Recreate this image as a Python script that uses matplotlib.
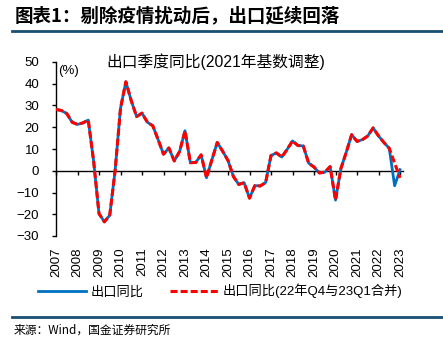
import numpy as np
import matplotlib
matplotlib.use("Agg")
import matplotlib.pyplot as plt
from matplotlib.lines import Line2D

plt.rcParams['font.family'] = ['Liberation Sans', 'Noto Sans CJK SC', 'DejaVu Sans']

years = [str(y) for y in range(2007, 2024)]
export_yoy = [28.2, 27.7, 26.3, 22.3,
              21.3, 22.0, 23.3, 4.4,
              -19.7, -23.5, -20.4, 0.1,
              28.7, 40.9, 32.2, 24.9,
              26.5, 22.3, 20.7, 14.3,
              7.6, 10.5, 4.5, 8.9,
              18.4, 3.7, 3.8, 7.3,
              -3.2, 5.0, 13.0, 9.0,
              4.7, -2.6, -6.3, -5.5,
              -12.6, -6.8, -7.0, -5.4,
              7.0, 8.2, 6.3, 9.8,
              13.7, 11.6, 11.4, 3.5,
              1.7, -1.0, -0.7, 1.9,
              -13.5, 1.0, 8.5, 16.6,
              13.5, 14.3, 16.0, 19.7,
              16.0, 13.0, 10.3, -6.9,
              0.5]
export_merged = export_yoy[:63] + [np.nan, -3.3]

series1_name = "出口同比"
series2_name = "出口同比(22年Q4与23Q1合并)"

fig = plt.figure(figsize=(4.43, 3.49), dpi=100)
W, H = 443, 349

ax = fig.add_axes([56 / W, 1 - 236 / H, 346.7 / W, 174 / H])

x = np.arange(len(export_yoy))
ax.plot(x, export_yoy, color='#0070C0', lw=2.0, solid_joinstyle='round', zorder=3)
m = np.array(export_merged, dtype=float)
ok = ~np.isnan(m)
ax.plot(x[ok], m[ok], color='#FF0000', lw=2.2, dashes=(2.3, 1.0), zorder=4)

ax.set_xlim(0, 64.5)
ax.set_ylim(-30, 50)
ax.set_yticks(np.arange(-30, 51, 10))
ax.tick_params(axis='y', direction='out', length=3, width=1, pad=9, labelsize=9.5)
ax.spines['top'].set_visible(False)
ax.spines['right'].set_visible(False)
ax.spines['bottom'].set_position(('data', 0))
ax.spines['bottom'].set_linewidth(1)
ax.spines['left'].set_linewidth(1)
xt = np.arange(0, len(export_yoy), 4)
ax.set_xticks(xt)
ax.tick_params(axis='x', direction='out', length=3, width=1, labelbottom=False)

sec = ax.secondary_xaxis(0.0)
sec.set_xticks(xt)
sec.set_xticklabels(years, rotation=90, fontsize=9.5)
sec.tick_params(axis='x', length=0, pad=8)
sec.spines['bottom'].set_visible(False)

ax.text(0.005, 0.985, "(%)", transform=ax.transAxes, ha='left', va='top', fontsize=9.5)

fig.text(216 / W, 1 - 62 / H, "出口季度同比(2021年基数调整)", ha='center', va='center', fontsize=11.3)

# header and footer
fig.text(15 / W, 1 - 16 / H, "图表1：剔除疫情扰动后，出口延续回落", ha='left', va='center',
         fontsize=13.3, fontweight='bold', family=['Noto Sans CJK SC', 'DejaVu Sans'])
fig.add_artist(Line2D([12 / W, 1], [1 - 31 / H, 1 - 31 / H], color='#1B4F72', lw=2))
fig.add_artist(Line2D([12 / W, 1], [1 - 316.5 / H, 1 - 316.5 / H], color='#1B4F72', lw=2))
fig.text(14 / W, 1 - 330 / H, "来源：Wind，国金证券研究所", ha='left', va='center', fontsize=8.5,
         family=['Noto Sans CJK SC', 'DejaVu Sans'])

handles = [Line2D([], [], color='#0070C0', lw=2.0),
           Line2D([], [], color='#FF0000', lw=2.2, dashes=(2.3, 1.0))]
fig.legend(handles, [series1_name, series2_name], loc='center left',
           bbox_to_anchor=(38 / W, 1 - 291 / H), ncol=2, frameon=False,
           fontsize=9.5, handlelength=3.6, handletextpad=0.4, columnspacing=2.0,
           borderpad=0, borderaxespad=0)

fig.savefig("out.png", dpi=100)
